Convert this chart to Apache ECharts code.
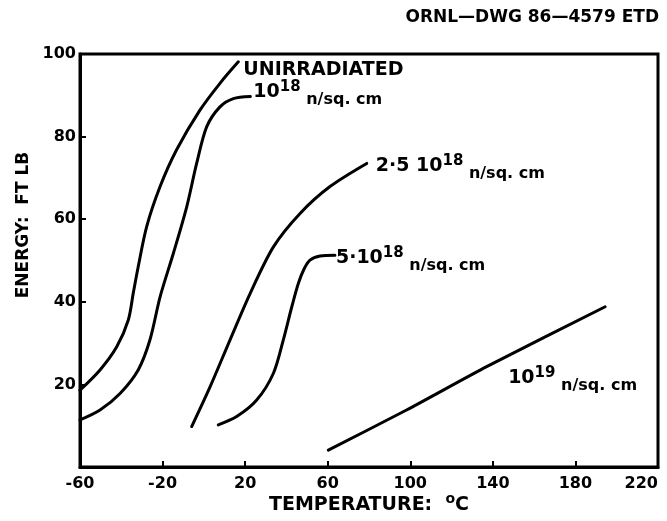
<!DOCTYPE html>
<html>
<head>
<meta charset="utf-8">
<script src="https://cdn.jsdelivr.net/npm/echarts@6/dist/echarts.min.js"></script>
<style>
  html, body { margin: 0; padding: 0; background: #fff; }
  #chart { width: 667px; height: 521px; }
</style>
</head>
<body>
<div id="chart"></div>
<script>
// Axis ticks: temperature in °C, impact energy in ft·lb
const temperatureTicks = [-60, -20, 20, 60, 100, 140, 180, 220];
const energyTicks = [0, 20, 40, 60, 80, 100];

// Charpy impact energy vs. test temperature for each neutron fluence
const unirradiatedT = [-60, -50.3, -42.2, -36.6, -34.2, -31.8, -27.7, -21.2, -13.2, -1.9, 7.8, 16.7];
const unirradiatedE = [18.6, 23.5, 29.1, 35.6, 42.1, 48.5, 58.2, 67.9, 76.8, 86.4, 92.9, 98.1];

const fluence1e18T = [-60, -50.3, -40.6, -31.8, -26.1, -21.2, -14.8, -8.3, -3.5, 1.4, 7.8, 14.3, 22.5];
const fluence1e18E = [11.4, 13.8, 17.8, 23.5, 30.8, 41.2, 51.7, 63.0, 73.5, 82.4, 87.2, 89.2, 89.7];

const fluence25e18T = [-5.9, 3.0, 12.7, 22.4, 33.7, 46.6, 61.1, 78.9];
const fluence25e18E = [9.8, 19.4, 30.8, 42.0, 53.3, 61.4, 67.9, 73.5];

const fluence5e18T = [7.0, 15.9, 25.6, 33.7, 38.5, 42.6, 45.8, 48.6, 51.4, 56.3, 63.5];
const fluence5e18E = [10.2, 12.2, 16.2, 22.7, 30.8, 38.8, 44.5, 48.0, 50.1, 51.1, 51.3];

const fluence1e19T = [60.3, 98.2, 137.0, 194.4];
const fluence1e19E = [4.1, 13.8, 24.3, 38.8];

const FONT = 'DejaVu Sans';

// Rich-text styles for curve annotations: base text, raised exponent, lowered units
const annotationRich = {
  b: { fontFamily: FONT, fontWeight: 'bold', fontSize: 19, verticalAlign: 'top', padding: [3, 0, 0, 0], color: '#000' },
  s: { fontFamily: FONT, fontWeight: 'bold', fontSize: 15, verticalAlign: 'top', padding: [0, 0, 0, 0], color: '#000' },
  u: { fontFamily: FONT, fontWeight: 'bold', fontSize: 16, verticalAlign: 'top', padding: [12, 0, 0, 0], color: '#000' }
};

function curve(name, temps, energies, text, offset, smooth) {
  return {
    type: 'line',
    name: name,
    data: temps.map((t, i) => [t, energies[i]]),
    smooth: smooth,
    symbol: 'none',
    showSymbol: false,
    silent: true,
    lineStyle: { color: '#000', width: 3, cap: 'round', join: 'round' },
    endLabel: {
      show: true,
      formatter: text,
      distance: 0,
      offset: offset,
      rich: annotationRich
    }
  };
}

const chart = echarts.init(document.getElementById('chart'), null, { renderer: 'canvas' });

chart.setOption({
  animation: false,
  backgroundColor: '#fff',
  title: {
    text: 'ORNL—DWG 86—4579 ETD',
    right: 3,
    top: 4,
    textStyle: { fontFamily: FONT, fontWeight: 'bold', fontSize: 17, color: '#000' }
  },
  grid: {
    left: 80, right: 9, top: 54, bottom: 54,
    outerBoundsMode: 'none',
    containLabel: false,
    show: true,
    borderColor: '#000',
    borderWidth: 3
  },
  xAxis: {
    type: 'value',
    min: temperatureTicks[0],
    max: temperatureTicks[temperatureTicks.length - 1],
    interval: temperatureTicks[1] - temperatureTicks[0],
    name: '{n|TEMPERATURE:  }{s|o}{n|C}',
    nameLocation: 'middle',
    nameMoveOverlap: false,
    nameGap: 25,
    nameTextStyle: {
      rich: {
        n: { fontFamily: FONT, fontWeight: 'bold', fontSize: 19, verticalAlign: 'top', padding: [4, 0, 0, 0], color: '#000' },
        s: { fontFamily: FONT, fontWeight: 'bold', fontSize: 14, verticalAlign: 'top', padding: [0, 0, 0, 0], color: '#000' }
      }
    },
    axisLine: { show: true, onZero: false, lineStyle: { color: '#000', width: 3 } },
    axisTick: { show: true, inside: true, length: 6, lineStyle: { color: '#000', width: 2 } },
    axisLabel: {
      margin: 9, alignMaxLabel: 'right',
      fontFamily: FONT, fontWeight: 'bold', fontSize: 16, color: '#000'
    },
    splitLine: { show: false }
  },
  yAxis: {
    type: 'value',
    min: energyTicks[0],
    max: energyTicks[energyTicks.length - 1],
    interval: energyTicks[1] - energyTicks[0],
    name: 'ENERGY:  FT LB',
    nameLocation: 'middle',
    nameRotate: 90,
    nameGap: 46,
    nameTextStyle: { fontFamily: FONT, fontWeight: 'bold', fontSize: 17, color: '#000', padding: [0, 0, 0, 71] },
    axisLine: { show: true, onZero: false, lineStyle: { color: '#000', width: 3 } },
    axisTick: { show: true, inside: true, length: 6, lineStyle: { color: '#000', width: 2 } },
    axisLabel: {
      margin: 4,
      fontFamily: FONT, fontWeight: 'bold', fontSize: 16, color: '#000',
      formatter: v => (v === 0 ? '' : String(v))
    },
    splitLine: { show: false }
  },
  series: [
    curve('Unirradiated', unirradiatedT, unirradiatedE, '{b|UNIRRADIATED}', [5, 7], 0.3),
    curve('1e18', fluence1e18T, fluence1e18E, '{b|10}{s|18}{u| n/sq. cm}', [3, -3], 0.3),
    curve('2.5e18', fluence25e18T, fluence25e18E, '{b|2·5 10}{s|18}{u| n/sq. cm}', [9, 4.5], 0.3),
    curve('5e18', fluence5e18T, fluence5e18E, '{b|5·10}{s|18}{u| n/sq. cm}', [1, 4.5], 0.3),
    curve('1e19', fluence1e19T, fluence1e19E, '{b|10}{s|19}{u| n/sq. cm}', [-97, 73], 0.2)
  ]
});
</script>
</body>
</html>
